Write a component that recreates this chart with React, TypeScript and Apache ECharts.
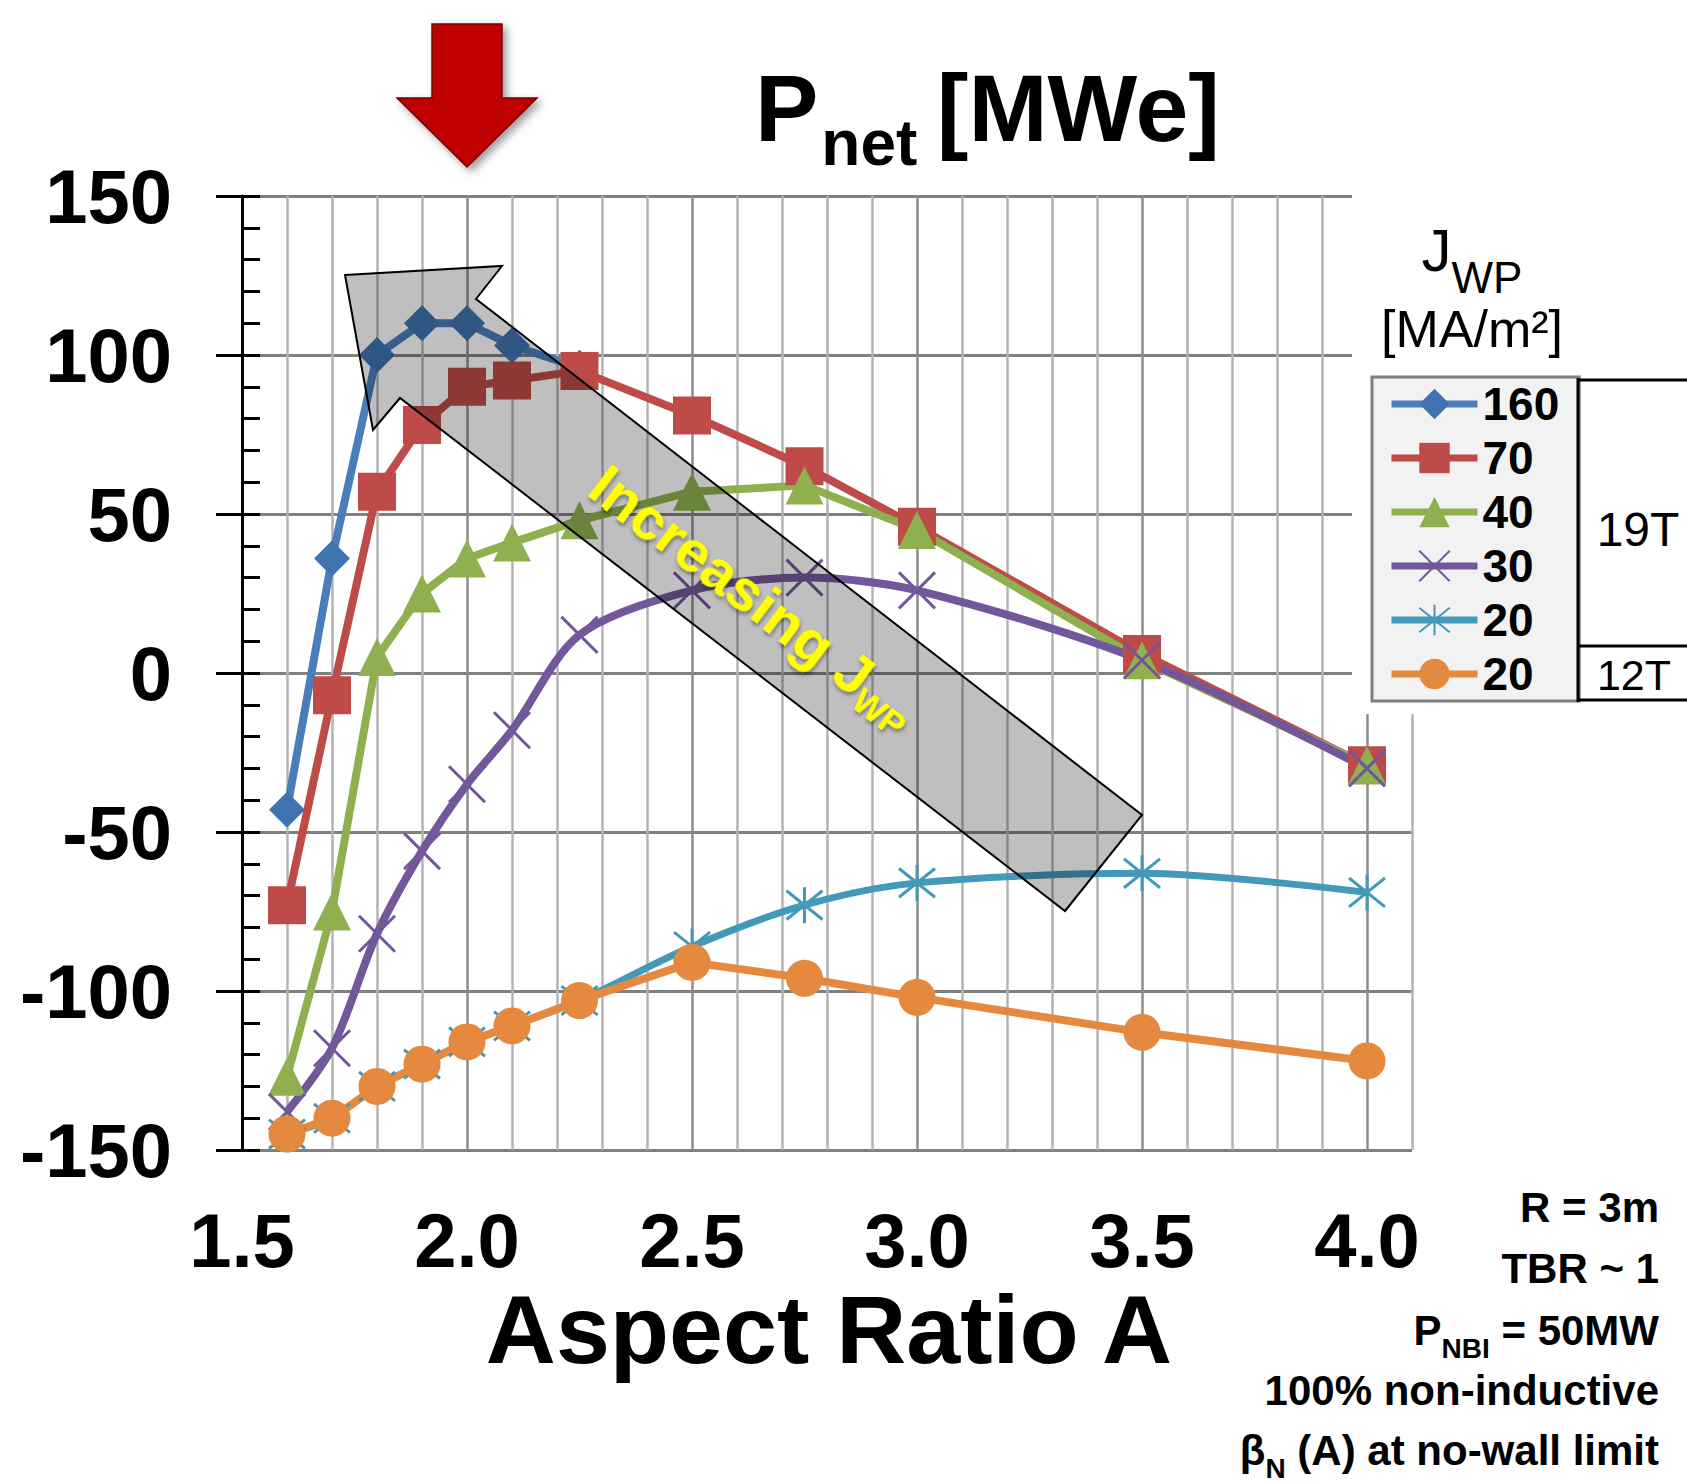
import React, { useEffect, useRef } from 'react';
import * as echarts from 'echarts';

// ---------------- data ----------------
const aspectRatio = [1.6, 1.7, 1.8, 1.9, 2.0, 2.1, 2.25, 2.5, 2.75, 3.0, 3.5, 4.0];
const pnetJ160 = [-43, 36, 100, 110, 110, 103, 96];
const pnetJ70 = [-73, -7, 57, 78, 90, 92, 95, 81, 65, 46, 6, -29];
const pnetJ40 = [-127, -75, 5, 25, 36, 41, 48, 57, 59, 45, 4, -29];
const pnetJ30 = [-138, -118, -82, -56, -35, -18, 12, 26, 30, 26, 4, -30];
const pnetJ20at19T = [-145, -140, -130, -123, -116, -111, -103, -86, -73, -66, -63, -69];
const pnetJ20at12T = [-145, -140, -130, -123, -116, -111, -103, -91, -96, -102, -113, -122];

const seriesNames = ['160', '70', '40', '30', '20 (19T)', '20 (12T)'];
const xTickLabels = ['1.5', '2.0', '2.5', '3.0', '3.5', '4.0'];
const noteLines = ['R = 3m', 'TBR ~ 1', '100% non-inductive'];

const FONT = '"Liberation Sans", Arial, Helvetica, sans-serif';

const C_BLUE = '#4A7EBB';
const C_RED = '#BE4B48';
const C_GREEN = '#8FB04F';
const C_PURPLE = '#72579B';
const C_CYAN = '#4299B8';
const C_ORANGE = '#E5893E';

function zip(xs: number[], ys: number[]) {
  return ys.map((y, i) => [xs[i], y]);
}

function measure(text: string, font: string): number {
  const c = document.createElement('canvas').getContext('2d');
  if (!c) return text.length * 20;
  c.font = font;
  return c.measureText(text).width;
}

function txt(text: string, x: number, y: number, size: number, weight: string, align: string, fill = '#000', z = 20, extra: any = {}) {
  return {
    type: 'text',
    x,
    y,
    z,
    silent: true,
    style: {
      text,
      fill,
      font: `${weight} ${size}px ${FONT}`,
      align,
      textAlign: align,
      verticalAlign: 'middle',
      textVerticalAlign: 'middle',
      ...extra,
    },
  };
}

function buildOption() {
  // title P_net [MWe]
  const tF = 95;
  const tSubF = 64;
  const tx0 = 755;
  const wP = measure('P', `bold ${tF}px ${FONT}`);
  const wNet = measure('net', `bold ${tSubF}px ${FONT}`);
  const wSp = measure(' ', `bold ${tF}px ${FONT}`);

  // J_WP header
  const wJ = measure('J', `normal 60px ${FONT}`);
  const wWP = measure('WP', `normal 44px ${FONT}`);
  const jStart = 1472 - (wJ + wWP) / 2;

  // notes
  const nF = 42;
  const nSub = 28;
  const nRight = 1659;
  const s1 = ' = 50MW';
  const w1 = measure(s1, `bold ${nF}px ${FONT}`);
  const wNBI = measure('NBI', `bold ${nSub}px ${FONT}`);
  const s2 = ' (A) at no-wall limit';
  const w2 = measure(s2, `bold ${nF}px ${FONT}`);
  const wN = measure('N', `bold ${nSub}px ${FONT}`);

  // increasing arrow text
  const aF = 58;
  const aSub = 35;
  const wInc = measure('Increasing J', `bold ${aF}px ${FONT}`);

  const arrowTextShadow = {
    textShadowColor: 'rgba(0,0,0,0.45)',
    textShadowBlur: 4,
    textShadowOffsetX: 2,
    textShadowOffsetY: 2,
  };

  const graphic: any[] = [
    // white box hiding grid lines behind legend header
    { type: 'rect', z: 1, silent: true, shape: { x: 1352, y: 180, width: 335, height: 534 }, style: { fill: '#ffffff' } },

    // red down arrow
    {
      type: 'polygon',
      z: 30,
      silent: true,
      shape: { points: [[432, 24], [502, 24], [502, 98], [537, 98], [467, 167], [397, 98], [432, 98]] },
      style: {
        fill: '#C00000',
        stroke: '#7A0000',
        lineWidth: 1.5,
        shadowBlur: 8,
        shadowColor: 'rgba(0,0,0,0.4)',
        shadowOffsetX: 4,
        shadowOffsetY: 4,
      },
    },

    // gray "increasing" arrow
    {
      type: 'polygon',
      z: 30,
      silent: true,
      shape: { points: [[345, 275], [502, 266], [476, 299], [1142, 815], [1065, 911], [400, 398], [373, 430]] },
      style: {
        fill: 'rgba(0,0,0,0.25)',
        stroke: '#000',
        lineWidth: 2,
      },
    },
    {
      type: 'group',
      x: 585,
      y: 494,
      rotation: (-37 * Math.PI) / 180,
      z: 31,
      children: [
        txt('Increasing J', 0, -0.3465 * aF, aF, 'bold', 'left', '#FFFF00', 31, arrowTextShadow),
        txt('WP', wInc, 9 - 0.3465 * aSub, aSub, 'bold', 'left', '#FFFF00', 31, arrowTextShadow),
      ],
    },

    // main title
    txt('P', tx0, 108, tF, 'bold', 'left'),
    txt('net', tx0 + wP + 3, 143, tSubF, 'bold', 'left'),
    txt('[MWe]', tx0 + wP - 4 + wNet + wSp, 108, tF, 'bold', 'left'),

    // x axis title
    txt('Aspect Ratio A', 829, 1329, 97, 'bold', 'center'),

    // legend header
    txt('J', jStart, 250, 60, 'normal', 'left'),
    txt('WP', jStart + wJ, 277, 44, 'normal', 'left'),
    txt('[MA/m²]', 1472, 329, 52, 'normal', 'center'),

    // field brackets
    { type: 'line', z: 5, silent: true, shape: { x1: 1578, y1: 380, x2: 1687, y2: 380 }, style: { stroke: '#000', lineWidth: 3 } },
    { type: 'line', z: 5, silent: true, shape: { x1: 1578, y1: 378, x2: 1578, y2: 702 }, style: { stroke: '#000', lineWidth: 3 } },
    { type: 'line', z: 5, silent: true, shape: { x1: 1578, y1: 646, x2: 1687, y2: 646 }, style: { stroke: '#000', lineWidth: 3 } },
    { type: 'line', z: 5, silent: true, shape: { x1: 1578, y1: 700, x2: 1687, y2: 700 }, style: { stroke: '#000', lineWidth: 3 } },
    txt('19T', 1638, 529, 48, 'normal', 'center'),
    txt('12T', 1634, 675, 43, 'normal', 'center'),

    // notes
    txt(noteLines[0], nRight, 1207, nF, 'bold', 'right'),
    txt(noteLines[1], nRight, 1268, nF, 'bold', 'right'),
    txt(s1, nRight, 1330, nF, 'bold', 'right'),
    txt('NBI', nRight - w1, 1348, nSub, 'bold', 'right'),
    txt('P', nRight - w1 - wNBI, 1330, nF, 'bold', 'right'),
    txt(noteLines[2], nRight, 1390, nF, 'bold', 'right'),
    txt(s2, nRight, 1450, nF, 'bold', 'right'),
    txt('N', nRight - w2, 1468, nSub, 'bold', 'right'),
    txt('β', nRight - w2 - wN, 1450, nF, 'bold', 'right'),
  ];

  const crossPath = 'path://M0 0L10 10M10 0L0 10';
  const starPath = 'path://M1 1L9 9M9 1L1 9M5 0L5 10';

  const mk = (name: string, ys: number[], color: string, symbol: string, size: number, width: number, extra: any = {}) => ({
    type: 'line',
    name,
    data: zip(aspectRatio, ys),
    symbol,
    symbolSize: size,
    showAllSymbol: true,
    lineStyle: { color, width },
    itemStyle: { color },
    ...extra,
  });

  const series = [
    mk(seriesNames[0], pnetJ160, C_BLUE, 'diamond', 36, 8, { itemStyle: { color: '#4173B0' } }),
    mk(seriesNames[1], pnetJ70, C_RED, 'rect', 38, 8),
    mk(seriesNames[2], pnetJ40, C_GREEN, 'triangle', 38, 8),
    mk(seriesNames[3], pnetJ30, C_PURPLE, crossPath, 36, 8, {
      smooth: 0.3,
      itemStyle: { color: C_PURPLE, borderColor: C_PURPLE, borderWidth: 3 },
    }),
    mk(seriesNames[4], pnetJ20at19T, C_CYAN, starPath, 36, 7, {
      smooth: 0.3,
      itemStyle: { color: C_CYAN, borderColor: C_CYAN, borderWidth: 3 },
    }),
    mk(seriesNames[5], pnetJ20at12T, C_ORANGE, 'circle', 37, 8),
  ];

  return {
    animation: false,
    backgroundColor: '#ffffff',
    textStyle: { fontFamily: FONT },
    grid: { left: 242, top: 196, width: 1170, height: 954, containLabel: false },
    legend: {
      orient: 'vertical',
      left: 1372,
      top: 377,
      itemWidth: 86,
      itemHeight: 38,
      itemGap: 8,
      padding: [4, 20, 4, 16],
      backgroundColor: '#F2F2F2',
      borderColor: '#7F7F7F',
      borderWidth: 3,
      selectedMode: false,
      data: seriesNames,
      lineStyle: { width: 7 },
      formatter: (name: string) => name.split(' ')[0],
      textStyle: { fontSize: 46, fontWeight: 'bold', color: '#000', fontFamily: FONT },
    },
    xAxis: {
      type: 'value',
      min: 1.5,
      max: 4.1,
      interval: 0.1,
      axisLine: { show: false, onZero: false },
      axisTick: { show: false },
      axisLabel: {
        fontSize: 76,
        fontWeight: 'bold',
        color: '#000',
        fontFamily: FONT,
        margin: 52,
        formatter: (v: number) => {
          const s = v.toFixed(1);
          return xTickLabels.includes(s) ? s : '';
        },
      },
      splitLine: {
        show: true,
        lineStyle: { color: ['#8C8C8C', '#B4B4B4', '#B4B4B4', '#B4B4B4', '#B4B4B4'], width: 2.5 },
      },
    },
    yAxis: [
      {
        type: 'value',
        min: -150,
        max: 150,
        interval: 50,
        axisLine: { show: true, onZero: false, lineStyle: { color: '#000', width: 3 } },
        axisTick: { show: true, inside: true, length: 18, lineStyle: { color: '#000', width: 3 } },
        minorTick: { show: true, splitNumber: 5, length: 18, lineStyle: { color: '#000', width: 3 } },
        axisLabel: { fontSize: 76, fontWeight: 'bold', color: '#000', fontFamily: FONT, margin: 70 },
        splitLine: { show: true, lineStyle: { color: '#808080', width: 3 } },
      },
      {
        type: 'value',
        min: -150,
        max: 150,
        interval: 50,
        position: 'left',
        offset: 0,
        axisLine: { show: false, onZero: false },
        axisTick: { show: true, inside: false, length: 26, lineStyle: { color: '#000', width: 3 } },
        axisLabel: { show: false },
        splitLine: { show: false },
      },
    ],
    series,
    graphic: { elements: graphic },
  };
}

export default function App() {
  const ref = useRef<HTMLDivElement>(null);
  useEffect(() => {
    if (!ref.current) return;
    const chart = echarts.init(ref.current, null, { renderer: 'svg' });
    chart.setOption(buildOption() as any);
    return () => chart.dispose();
  }, []);
  return (
    <div
      ref={ref}
      style={{ position: 'absolute', left: 0, top: 0, width: 1687, height: 1482, background: '#fff' }}
    />
  );
}
